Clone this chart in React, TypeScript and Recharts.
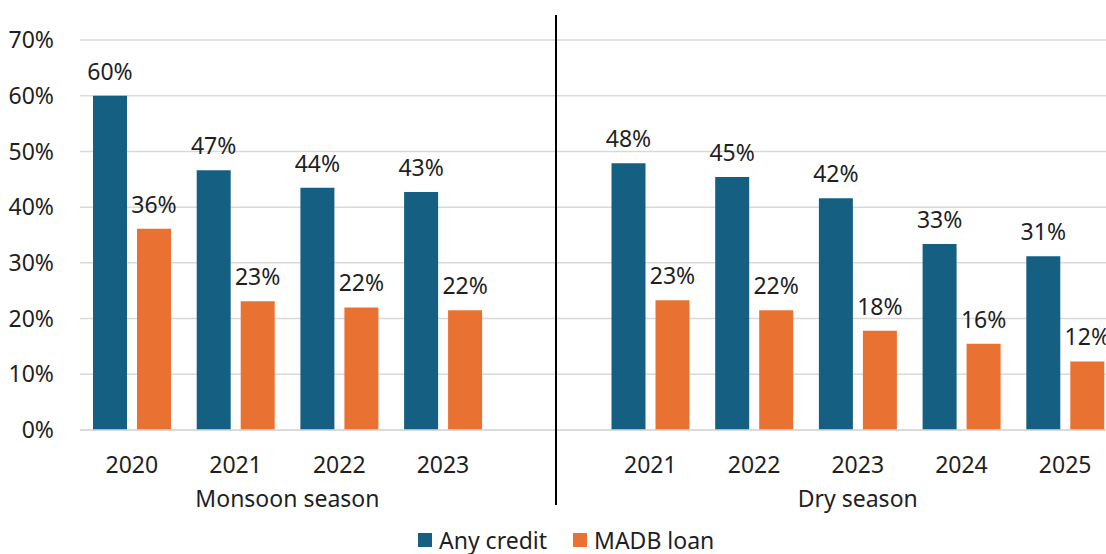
import React from "react";
import { BarChart, Bar, XAxis, YAxis, CartesianGrid, LabelList } from "recharts";

const categories = ["2020", "2021", "2022", "2023", "", "2021", "2022", "2023", "2024", "2025"];
const anyCredit = [60, 46.6, 43.5, 42.7, null, 47.9, 45.4, 41.6, 33.4, 31.2];
const madbLoan = [36.1, 23.1, 22, 21.5, null, 23.3, 21.5, 17.8, 15.5, 12.3];
const seasons = [
  { label: "Monsoon season", from: 0, to: 3 },
  { label: "Dry season", from: 5, to: 9 },
];
const yTicks = [0, 10, 20, 30, 40, 50, 60, 70];

const BLUE = "#156082";
const ORANGE = "#E97132";
const TEXT = "#1f1f1f";
const FONT = "'Noto Sans', sans-serif";
const FS = 23;

const CHART_W = 1120;
const CHART_H = 554;
const Y_W = 80;
const RIGHT = 3;
const BAND = (CHART_W - Y_W - RIGHT) / categories.length;

const data = categories.map((c, i) => ({
  slot: i,
  year: c,
  any: anyCredit[i],
  madb: madbLoan[i],
}));

const pct = (v: any) => (v == null ? "" : `${Math.round(v)}%`);

function YearTick(props: any) {
  const { x, y, payload } = props;
  const label = categories[payload.value];
  if (!label) return null;
  return (
    <text x={x} y={y + 41} textAnchor="middle" fill={TEXT} fontSize={FS} fontFamily={FONT}>
      {label}
    </text>
  );
}

function SeasonTick(props: any) {
  const { x, y, payload } = props;
  const group = seasons.find((s) => s.from === payload.value);
  if (!group) return null;
  const cx = x + ((group.to - group.from) / 2) * BAND;
  return (
    <text x={cx} y={y + 25} textAnchor="middle" fill={TEXT} fontSize={FS} fontFamily={FONT}>
      {group.label}
    </text>
  );
}

function LegendItem({ color, label }: { color: string; label: string }) {
  return (
    <span style={{ display: "inline-flex", alignItems: "center", marginRight: 26 }}>
      <span style={{ width: 14, height: 14, background: color, marginRight: 7, display: "inline-block" }} />
      {label}
    </span>
  );
}

export default function App() {
  return (
    <div
      style={{
        position: "fixed",
        top: 0,
        left: 0,
        width: 1106,
        height: 554,
        overflow: "hidden",
        background: "#fff",
        fontFamily: FONT,
      }}
    >
      <BarChart
        width={CHART_W}
        height={CHART_H}
        data={data}
        margin={{ top: 40, right: RIGHT, bottom: 0, left: 0 }}
        barCategoryGap={13}
        barGap={10}
      >
        <CartesianGrid vertical={false} stroke="#d9d9d9" strokeWidth={1.5} xAxisId={0} />
        <YAxis
          width={Y_W}
          domain={[0, 70]}
          ticks={yTicks}
          tickFormatter={(v) => `${v}%`}
          axisLine={false}
          tickLine={false}
          tickSize={0}
          tickMargin={26}
          tick={{ fill: TEXT, fontSize: FS, fontFamily: FONT }}
        />
        <XAxis
          dataKey="slot"
          xAxisId={0}
          height={50}
          interval={0}
          tickLine={false}
          tickSize={0}
          axisLine={{ stroke: "#d9d9d9", strokeWidth: 1.5 }}
          tick={<YearTick />}
        />
        <XAxis
          dataKey="slot"
          xAxisId={1}
          height={74}
          interval={0}
          tickLine={false}
          tickSize={0}
          axisLine={false}
          tick={<SeasonTick />}
        />
        <Bar dataKey="any" xAxisId={0} fill={BLUE} isAnimationActive={false}>
          <LabelList dataKey="any" position="top" offset={16} formatter={pct} fill={TEXT} fontSize={FS} fontFamily={FONT} />
        </Bar>
        <Bar dataKey="madb" xAxisId={0} fill={ORANGE} isAnimationActive={false}>
          <LabelList dataKey="madb" position="top" offset={16} formatter={pct} fill={TEXT} fontSize={FS} fontFamily={FONT} />
        </Bar>
      </BarChart>
      {/* divider between the two seasons */}
      <div style={{ position: "absolute", left: 555, top: 15, width: 2, height: 490, background: "#000" }} />
      <div
        style={{
          position: "absolute",
          top: 524,
          left: 418,
          fontSize: FS,
          color: TEXT,
          whiteSpace: "nowrap",
          lineHeight: "28px",
        }}
      >
        <LegendItem color={BLUE} label="Any credit" />
        <LegendItem color={ORANGE} label="MADB loan" />
      </div>
    </div>
  );
}
